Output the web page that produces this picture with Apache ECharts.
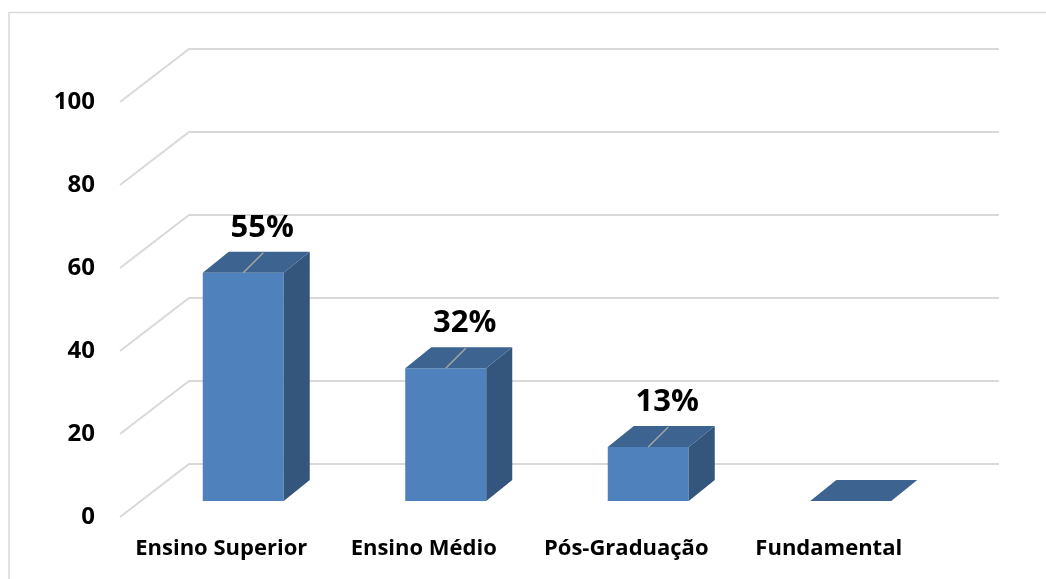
<!DOCTYPE html>
<html>
<head>
<meta charset="utf-8">
<script src="https://cdn.jsdelivr.net/npm/echarts@6/dist/echarts.min.js"></script>
<style>
	html, body { margin: 0; padding: 0; background: #fff; }
	#chart { width: 1046px; height: 579px; }
</style>
</head>
<body>
<div id="chart"></div>
<script>
var categories = ['Ensino Superior', 'Ensino Médio', 'Pós-Graduação', 'Fundamental'];
var values = [55, 32, 13, 0];
var valueLabels = ['55%', '32%', '13%', ''];
var yTicks = [0, 20, 40, 60, 80, 100];

// 3D look: floor depth vector, bar offset into depth, bar depth
var DEPTH_X = 69, DEPTH_Y = -53;
var OFF_X = 22, OFF_Y = -16;
var BAR_DX = 26, BAR_DY = -21;

var FRONT = '#4F81BD';
var TOP = '#3D6491';
var SIDE = '#34557C';
var GRID = '#D9D9D9';
var FONT = 'Open Sans';

var myChart = echarts.init(document.getElementById('chart'));

var option = {
	animation: false,
	backgroundColor: '#fff',
	textStyle: { fontFamily: FONT },
	graphic: [{
		type: 'rect',
		shape: { x: 9, y: 12.5, width: 1100, height: 700 },
		style: { fill: null, stroke: GRID, lineWidth: 1.5 },
		silent: true
	}],
	grid: {
		left: 120,
		right: 116,
		top: 102,
		bottom: 62
	},
	xAxis: {
		type: 'category',
		data: categories,
		axisLine: { show: false },
		axisTick: { show: false },
		axisLabel: {
			color: '#000',
			fontWeight: 'bold',
			fontSize: 22,
			fontFamily: FONT,
			margin: 21,
			interval: 0
		}
	},
	yAxis: {
		type: 'value',
		min: 0,
		max: 100,
		interval: 20,
		axisLine: { show: false },
		axisTick: { show: false },
		splitLine: { show: false },
		axisLabel: {
			color: '#000',
			fontWeight: 'bold',
			fontSize: 24,
			fontFamily: FONT,
			margin: 25
		}
	},
	series: [{
		// back wall grid lines with the slanted side wall part
		type: 'custom',
		silent: true,
		z: 1,
		data: yTicks.map(function(v) { return [0, v]; }),
		encode: { x: 0, y: 1 },
		renderItem: function(params, api) {
			var cs = params.coordSys;
			var y = api.coord([0, api.value(1)])[1];
			return {
				type: 'polyline',
				shape: {
					points: [
						[cs.x, y],
						[cs.x + DEPTH_X, y + DEPTH_Y],
						[cs.x + cs.width + DEPTH_X, y + DEPTH_Y]
					]
				},
				style: { stroke: GRID, lineWidth: 2, fill: null }
			};
		}
	}, {
		// 3D bars
		type: 'custom',
		silent: true,
		z: 2,
		data: values.map(function(v, i) { return [i, v]; }),
		encode: { x: 0, y: 1 },
		renderItem: function(params, api) {
			var idx = api.value(0);
			var p = api.coord([idx, api.value(1)]);
			var p0 = api.coord([idx, 0]);
			var w = api.size([1, 0])[0] * 0.4;
			var fx = p[0] - w / 2 + OFF_X;
			var yb = p0[1] + OFF_Y;
			var yt = p[1] + OFF_Y;
			var children = [];
			if (yb - yt > 0) {
				children.push({
					type: 'rect',
					shape: { x: fx, y: yt, width: w, height: yb - yt },
					style: { fill: FRONT }
				});
				children.push({
					type: 'polygon',
					shape: {
						points: [[fx + w, yt], [fx + w + BAR_DX, yt + BAR_DY],
							[fx + w + BAR_DX, yb + BAR_DY], [fx + w, yb]]
					},
					style: { fill: SIDE }
				});
			}
			children.push({
				type: 'polygon',
				shape: {
					points: [[fx, yt], [fx + BAR_DX, yt + BAR_DY],
						[fx + w + BAR_DX, yt + BAR_DY], [fx + w, yt]]
				},
				style: { fill: TOP }
			});
			var txt = valueLabels[params.dataIndex];
			if (txt) {
				var lx = fx + w / 2;
				children.push({
					type: 'line',
					shape: { x1: lx, y1: yt, x2: lx + 20, y2: yt - 20 },
					style: { stroke: '#A6A6A6', lineWidth: 1.5 }
				});
				children.push({
					type: 'text',
					style: {
						text: txt,
						x: lx + 19,
						y: yt - 45,
						align: 'center',
						verticalAlign: 'middle',
						fill: '#000',
						font: 'bold 31px ' + FONT
					}
				});
			}
			return { type: 'group', children: children };
		}
	}]
};

myChart.setOption(option);
</script>
</body>
</html>
